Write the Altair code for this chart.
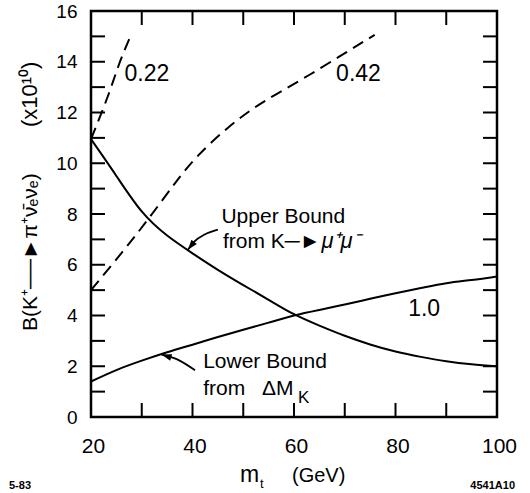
import altair as alt
import pandas as pd

# ---- data ----
mt_grid = [20, 25, 30, 35, 40, 45, 50, 55, 60, 65, 70, 75, 80, 85, 90, 95, 100]
upper_bound = [10.95, 9.5, 8.1, 7.15, 6.45, 5.8, 5.2, 4.62, 4.05, 3.6, 3.2, 2.86, 2.58, 2.37, 2.2, 2.08, 2.0]
lower_bound = [1.4, 1.85, 2.22, 2.55, 2.85, 3.15, 3.44, 3.72, 4.0, 4.22, 4.43, 4.66, 4.88, 5.08, 5.27, 5.4, 5.54]

mt_022 = [20, 23.3, 25.6, 27.9]
b_022 = [10.95, 12.63, 13.94, 15.06]

mt_042 = [20, 26, 31.2, 36.5, 41.1, 47, 53.6, 61.4, 69.3, 75.9]
b_042 = [5.0, 6.46, 7.78, 9.2, 10.3, 11.4, 12.37, 13.29, 14.25, 15.06]

x_ticks = [30, 40, 50, 60, 70, 80, 90]
y_ticks = list(range(1, 16))
x_labels = [20, 40, 60, 80, 100]
y_labels = [0, 2, 4, 6, 8, 10, 12, 14, 16]

num_text = ["0.22", "0.42", "1.0"]
num_x = [26.6, 68.3, 82.5]
num_y = [13.25, 13.25, 3.97]

notes_text = ["Upper Bound", "from K\u2500\u25ba", "Lower Bound", "from", "\u0394M"]
notes_x = [45.7, 46.0, 42.1, 42.1, 53.7]
notes_y = [7.65, 6.66, 1.95, 0.886, 0.886]
ital_text = ["\u03bc\u207a\u03bc\u207b"]
ital_x = [65.4]
ital_y = [6.66]
sub_text = ["K"]
sub_x = [60.8]
sub_y = [0.57]

arrow_up_x = [45.0, 42.4, 40.4, 39.1]
arrow_up_y = [7.38, 7.19, 6.92, 6.59]
arrow_lo_x = [40.5, 37.1, 33.9]
arrow_lo_y = [1.84, 2.26, 2.46]
head_x = [39.1, 33.9]
head_y = [6.59, 2.46]
head_angle = [218, 287]

FONT = "Liberation Sans"
W, H = 406, 406
xs = alt.Scale(domain=[20, 100], nice=False, zero=False)
ys = alt.Scale(domain=[0, 16], nice=False, zero=False)

x_axis = alt.Axis(values=x_labels, format="d", labelFontSize=21, labelFont=FONT, labelColor="black",
                  ticks=False, domain=False, grid=False, labelPadding=18, labelFlush=False,
                  labelOffset=2, title=None)
y_axis = alt.Axis(values=y_labels, format="d", labelFontSize=19, labelFont=FONT, labelColor="black",
                  ticks=False, domain=False, grid=False, labelPadding=14, labelFlush=False, title=None)


def X(f):
    return alt.X(f, scale=xs, axis=x_axis)


def Y(f):
    return alt.Y(f, scale=ys, axis=y_axis)


def frame(*series):
    rows = []
    for name, xv, yv in series:
        for i, (a, b) in enumerate(zip(xv, yv)):
            rows.append({"mt": a, "B": b, "curve": name, "o": i})
    return pd.DataFrame(rows)


solid = frame(("upper", mt_grid, upper_bound), ("lower", mt_grid, lower_bound))
dashed = frame(("0.22", mt_022, b_022), ("0.42", mt_042, b_042))
arrows = frame(("up", arrow_up_x, arrow_up_y), ("lo", arrow_lo_x, arrow_lo_y))

solid_layer = alt.Chart(solid).mark_line(color="black", strokeWidth=2, interpolate="natural").encode(
    x=X("mt:Q"), y=Y("B:Q"), detail="curve:N", order="o:Q")

dash_layer = alt.Chart(dashed).mark_line(color="black", strokeWidth=2, strokeDash=[12, 7],
                                         interpolate="natural").encode(
    x=X("mt:Q"), y=Y("B:Q"), detail="curve:N", order="o:Q")

arrow_layer = alt.Chart(arrows).mark_line(color="black", strokeWidth=1.8, interpolate="monotone").encode(
    x=X("mt:Q"), y=Y("B:Q"), detail="curve:N", order="o:Q")

heads = alt.Chart(pd.DataFrame({"mt": head_x, "B": head_y, "ang": head_angle})).mark_point(
    shape="M0,0L0.9,2.6L-0.9,2.6Z", filled=True, color="black", size=60, opacity=1).encode(
    x=X("mt:Q"), y=Y("B:Q"), angle=alt.Angle("ang:Q", scale=None))

nums = alt.Chart(pd.DataFrame({"t": num_text, "mt": num_x, "B": num_y})).mark_text(
    font=FONT, fontSize=23, align="left", baseline="alphabetic", color="black").encode(
    x=X("mt:Q"), y=Y("B:Q"), text="t:N")

notes = alt.Chart(pd.DataFrame({"t": notes_text, "mt": notes_x, "B": notes_y})).mark_text(
    font=FONT, fontSize=21, align="left", baseline="alphabetic", color="black").encode(
    x=X("mt:Q"), y=Y("B:Q"), text="t:N")

ital = alt.Chart(pd.DataFrame({"t": ital_text, "mt": ital_x, "B": ital_y})).mark_text(
    font=FONT, fontSize=22, fontStyle="italic", align="left", baseline="alphabetic", color="black").encode(
    x=X("mt:Q"), y=Y("B:Q"), text="t:N")

subs = alt.Chart(pd.DataFrame({"t": sub_text, "mt": sub_x, "B": sub_y})).mark_text(
    font=FONT, fontSize=17, align="left", baseline="alphabetic", color="black").encode(
    x=X("mt:Q"), y=Y("B:Q"), text="t:N")

tick_b = alt.Chart(pd.DataFrame({"mt": x_ticks})).mark_rule(color="black", strokeWidth=2).encode(
    x=X("mt:Q"), y=alt.value(H), y2=alt.value(H - 14))
tick_t = alt.Chart(pd.DataFrame({"mt": x_ticks})).mark_rule(color="black", strokeWidth=2).encode(
    x=X("mt:Q"), y=alt.value(0), y2=alt.value(14))
tick_l = alt.Chart(pd.DataFrame({"B": y_ticks})).mark_rule(color="black", strokeWidth=2).encode(
    y=Y("B:Q"), x=alt.value(0), x2=alt.value(14))
tick_r = alt.Chart(pd.DataFrame({"B": y_ticks})).mark_rule(color="black", strokeWidth=2).encode(
    y=Y("B:Q"), x=alt.value(W), x2=alt.value(W - 14))


def label(text, x, y, size, align="left", angle=0, weight="normal"):
    return alt.Chart(pd.DataFrame({"t": [text]})).mark_text(
        font=FONT, fontSize=size, align=align, baseline="alphabetic", color="black",
        angle=angle, fontWeight=weight).encode(text="t:N", x=alt.value(x), y=alt.value(y))


titles = [
    label("m", 149, 471, 23),
    label("t", 169, 477, 13),
    label("(GeV)", 201, 471, 20),
    label("B(K\u207a\u2500\u2500\u25ba\u03c0\u207a\u03bd\u0304\u2091\u03bd\u2091)", -54, 320, 21, angle=270),
    label("(x10\u00b9\u2070)", -54, 116, 22, angle=270),
    label("5-83", -71, 478, 11, align="center", weight="bold"),
    label("4541A10", 424, 478, 11, align="right", weight="bold"),
]

chart = alt.layer(solid_layer, dash_layer, arrow_layer, heads, nums, notes, ital, subs,
                  tick_b, tick_t, tick_l, tick_r, *titles).properties(
    width=W, height=H,
    autosize=alt.AutoSizeParams(type="none"),
    padding={"left": 91, "top": 11, "right": 33, "bottom": 76},
    background="white",
).configure_view(stroke="black", strokeWidth=2.5)

chart.save("out.html", embed_options={"renderer": "svg", "actions": False})
